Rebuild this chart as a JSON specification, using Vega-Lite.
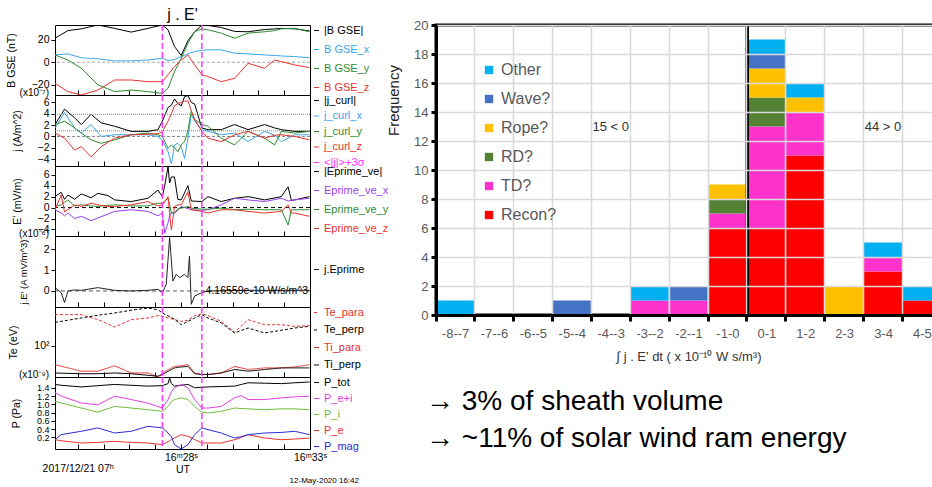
{
"$schema": "https://vega.github.io/schema/vega-lite/v6.json",
"background": "white",
"padding": {"left": 5, "top": 0, "right": 0, "bottom": 0},
"config": {"font": "Liberation Sans", "view": {"stroke": "black", "strokeWidth": 1},
 "axis": {"labelFont": "Liberation Sans", "titleFont": "Liberation Sans", "labelColor": "black", "titleColor": "black", "tickColor": "black", "titleFontWeight": "normal", "grid": false, "domain": false, "labelOverlap": false},
 "legend": {"labelFont": "Liberation Sans"},
 "title": {"font": "Liberation Sans", "fontWeight": "normal", "color": "black"}},
"datasets": {
 "one": [{}],
 "vl": [{"t": 27.28}, {"t": 28.81}],
 "B": [
  {"t":23.12,"|B GSE|":21.3,"B GSE_x":6.5,"B GSE_y":6.5,"B GSE_z":-18.7},
  {"t":23.62,"|B GSE|":28,"B GSE_x":7.4,"B GSE_y":2,"B GSE_z":-26},
  {"t":24.14,"|B GSE|":29.6,"B GSE_x":4,"B GSE_y":-5.3,"B GSE_z":-29},
  {"t":24.78,"|B GSE|":33,"B GSE_x":3,"B GSE_y":-20,"B GSE_z":-24.6},
  {"t":25.43,"|B GSE|":30,"B GSE_x":1.2,"B GSE_y":-26,"B GSE_z":-15.7},
  {"t":26.07,"|B GSE|":26.7,"B GSE_x":1.2,"B GSE_y":-24.6,"B GSE_z":-15.7},
  {"t":26.72,"|B GSE|":30,"B GSE_x":2,"B GSE_y":-26,"B GSE_z":-17.2},
  {"t":27.28,"|B GSE|":33,"B GSE_x":3.5,"B GSE_y":-27.6,"B GSE_z":-17.2},
  {"t":27.5,"|B GSE|":28.7,"B GSE_x":1.5,"B GSE_y":-23,"B GSE_z":-11},
  {"t":27.75,"|B GSE|":14,"B GSE_x":2.5,"B GSE_y":-8.3,"B GSE_z":-3.8},
  {"t":28.01,"|B GSE|":6,"B GSE_x":5,"B GSE_y":3.5,"B GSE_z":2},
  {"t":28.27,"|B GSE|":19,"B GSE_x":7.5,"B GSE_y":17,"B GSE_z":6.5},
  {"t":28.53,"|B GSE|":27,"B GSE_x":9.5,"B GSE_y":27,"B GSE_z":-2.4},
  {"t":28.81,"|B GSE|":33,"B GSE_x":10.5,"B GSE_y":29.6,"B GSE_z":-11},
  {"t":29.05,"|B GSE|":32.6,"B GSE_x":11,"B GSE_y":28.7,"B GSE_z":-12.7},
  {"t":29.56,"|B GSE|":30.8,"B GSE_x":11,"B GSE_y":25.8,"B GSE_z":-17.2},
  {"t":30.08,"|B GSE|":27.3,"B GSE_x":8,"B GSE_y":21.3,"B GSE_z":-14.2},
  {"t":30.6,"|B GSE|":27,"B GSE_x":7.4,"B GSE_y":25.8,"B GSE_z":-0.9},
  {"t":31.24,"|B GSE|":29,"B GSE_x":6.5,"B GSE_y":27,"B GSE_z":-5.3},
  {"t":31.63,"|B GSE|":29.5,"B GSE_x":6,"B GSE_y":28,"B GSE_z":2},
  {"t":31.89,"|B GSE|":30,"B GSE_x":5.6,"B GSE_y":29.6,"B GSE_z":0.6},
  {"t":32.41,"|B GSE|":29.6,"B GSE_x":5,"B GSE_y":30,"B GSE_z":-2.4},
  {"t":32.98,"|B GSE|":27.8,"B GSE_x":4,"B GSE_y":27,"B GSE_z":-4.7}],
 "J": [
  {"t":23.12,"|j_curl|":2.1,"j_curl_x":1.5,"j_curl_y":2.1,"j_curl_z":0.6},
  {"t":23.49,"|j_curl|":4.8,"j_curl_x":4.2,"j_curl_y":2.7,"j_curl_z":-0.3},
  {"t":23.88,"|j_curl|":3.3,"j_curl_x":1.5,"j_curl_y":1.5,"j_curl_z":-2.4},
  {"t":24.14,"|j_curl|":2.1,"j_curl_x":0.6,"j_curl_y":0.6,"j_curl_z":-1.8},
  {"t":24.52,"|j_curl|":3.9,"j_curl_x":2.1,"j_curl_y":-0.6,"j_curl_z":-3.6},
  {"t":24.91,"|j_curl|":2.4,"j_curl_x":0,"j_curl_y":-1.2,"j_curl_z":-1.8},
  {"t":25.43,"|j_curl|":1.8,"j_curl_x":0.3,"j_curl_y":-0.6,"j_curl_z":-0.3},
  {"t":26.07,"|j_curl|":0.9,"j_curl_x":0.3,"j_curl_y":0.3,"j_curl_z":0.3},
  {"t":26.72,"|j_curl|":0.9,"j_curl_x":0.3,"j_curl_y":0.6,"j_curl_z":0.4},
  {"t":27.11,"|j_curl|":1.2,"j_curl_x":0,"j_curl_y":0.3,"j_curl_z":0.5},
  {"t":27.28,"|j_curl|":2.7,"j_curl_x":-0.6,"j_curl_y":0,"j_curl_z":0.8},
  {"t":27.5,"|j_curl|":5.1,"j_curl_x":-2.7,"j_curl_y":-2.1,"j_curl_z":2.7},
  {"t":27.63,"|j_curl|":5.5,"j_curl_x":-4.8,"j_curl_y":-1.5,"j_curl_z":4.0},
  {"t":27.75,"|j_curl|":6.6,"j_curl_x":-1.5,"j_curl_y":-2.0,"j_curl_z":5.4},
  {"t":27.88,"|j_curl|":5.8,"j_curl_x":-1.2,"j_curl_y":-2.7,"j_curl_z":5.8},
  {"t":28.01,"|j_curl|":5.4,"j_curl_x":-1.8,"j_curl_y":-1.5,"j_curl_z":6.0},
  {"t":28.14,"|j_curl|":7.0,"j_curl_x":-3.9,"j_curl_y":-0.9,"j_curl_z":6.2},
  {"t":28.27,"|j_curl|":7.2,"j_curl_x":-0.3,"j_curl_y":1.0,"j_curl_z":6.3},
  {"t":28.4,"|j_curl|":6.0,"j_curl_x":3.9,"j_curl_y":4.5,"j_curl_z":4.5},
  {"t":28.53,"|j_curl|":5.7,"j_curl_x":2.7,"j_curl_y":3.0,"j_curl_z":3.0},
  {"t":28.81,"|j_curl|":1.5,"j_curl_x":1.2,"j_curl_y":2.1,"j_curl_z":0.9},
  {"t":29.05,"|j_curl|":1.2,"j_curl_x":0.9,"j_curl_y":1.8,"j_curl_z":-0.3},
  {"t":29.56,"|j_curl|":1.2,"j_curl_x":0.3,"j_curl_y":-0.3,"j_curl_z":-0.9},
  {"t":30.08,"|j_curl|":2.1,"j_curl_x":0.6,"j_curl_y":-1.5,"j_curl_z":0.3},
  {"t":30.6,"|j_curl|":1.2,"j_curl_x":-0.9,"j_curl_y":0.9,"j_curl_z":0.9},
  {"t":31.24,"|j_curl|":2.1,"j_curl_x":0.9,"j_curl_y":-0.3,"j_curl_z":-0.3},
  {"t":31.63,"|j_curl|":1.5,"j_curl_x":0.2,"j_curl_y":-1.5,"j_curl_z":0.2},
  {"t":31.89,"|j_curl|":1.2,"j_curl_x":-0.9,"j_curl_y":0.9,"j_curl_z":0.3},
  {"t":32.41,"|j_curl|":0.9,"j_curl_x":0.3,"j_curl_y":0.6,"j_curl_z":0},
  {"t":32.98,"|j_curl|":0.9,"j_curl_x":0.3,"j_curl_y":0.9,"j_curl_z":-0.6}],
 "E": [
  {"t":23.12,"|Eprime_ve|":2.0,"Eprime_ve_x":-0.4,"Eprime_ve_y":0.2,"Eprime_ve_z":-0.4},
  {"t":23.36,"|Eprime_ve|":2.8,"Eprime_ve_x":-1.0,"Eprime_ve_y":0.5,"Eprime_ve_z":2.3},
  {"t":23.49,"|Eprime_ve|":1.5,"Eprime_ve_x":-1.5,"Eprime_ve_y":1.0,"Eprime_ve_z":-0.8},
  {"t":23.62,"|Eprime_ve|":2.3,"Eprime_ve_x":-1.0,"Eprime_ve_y":1.4,"Eprime_ve_z":-0.4},
  {"t":23.88,"|Eprime_ve|":1.5,"Eprime_ve_x":-2.0,"Eprime_ve_y":0.3,"Eprime_ve_z":0.5},
  {"t":24.14,"|Eprime_ve|":2.5,"Eprime_ve_x":-1.6,"Eprime_ve_y":0.5,"Eprime_ve_z":0.2},
  {"t":24.52,"|Eprime_ve|":1.8,"Eprime_ve_x":-2.4,"Eprime_ve_y":0.3,"Eprime_ve_z":0.8},
  {"t":24.78,"|Eprime_ve|":2.6,"Eprime_ve_x":-1.9,"Eprime_ve_y":0.2,"Eprime_ve_z":0.5},
  {"t":25.17,"|Eprime_ve|":2.2,"Eprime_ve_x":-1.2,"Eprime_ve_y":0.4,"Eprime_ve_z":0.2},
  {"t":25.43,"|Eprime_ve|":1.4,"Eprime_ve_x":-0.7,"Eprime_ve_y":0.5,"Eprime_ve_z":0.2},
  {"t":26.07,"|Eprime_ve|":1.1,"Eprime_ve_x":-0.4,"Eprime_ve_y":0.3,"Eprime_ve_z":0.5},
  {"t":26.72,"|Eprime_ve|":1.7,"Eprime_ve_x":-0.7,"Eprime_ve_y":0.3,"Eprime_ve_z":1.1},
  {"t":27.11,"|Eprime_ve|":3.2,"Eprime_ve_x":-1.5,"Eprime_ve_y":0.8,"Eprime_ve_z":0.3},
  {"t":27.28,"|Eprime_ve|":2.0,"Eprime_ve_x":-1.0,"Eprime_ve_y":0.8,"Eprime_ve_z":0.5},
  {"t":27.37,"|Eprime_ve|":4.0,"Eprime_ve_x":-4.7,"Eprime_ve_y":1.2,"Eprime_ve_z":1.0},
  {"t":27.5,"|Eprime_ve|":7.5,"Eprime_ve_x":-2.8,"Eprime_ve_y":1.7,"Eprime_ve_z":2.0},
  {"t":27.56,"|Eprime_ve|":4.5,"Eprime_ve_x":-1.5,"Eprime_ve_y":0.5,"Eprime_ve_z":-1.0},
  {"t":27.63,"|Eprime_ve|":5.6,"Eprime_ve_x":-1.0,"Eprime_ve_y":-1.0,"Eprime_ve_z":-4.1},
  {"t":27.75,"|Eprime_ve|":5.6,"Eprime_ve_x":-1.0,"Eprime_ve_y":-1.0,"Eprime_ve_z":0.2},
  {"t":27.88,"|Eprime_ve|":1.5,"Eprime_ve_x":-0.5,"Eprime_ve_y":-0.2,"Eprime_ve_z":0.5},
  {"t":28.01,"|Eprime_ve|":1.4,"Eprime_ve_x":0.2,"Eprime_ve_y":-0.1,"Eprime_ve_z":0.5},
  {"t":28.27,"|Eprime_ve|":4.0,"Eprime_ve_x":-0.2,"Eprime_ve_y":0.2,"Eprime_ve_z":2.9},
  {"t":28.4,"|Eprime_ve|":1.2,"Eprime_ve_x":-0.4,"Eprime_ve_y":-0.1,"Eprime_ve_z":-0.4},
  {"t":28.81,"|Eprime_ve|":1.1,"Eprime_ve_x":-0.5,"Eprime_ve_y":-0.3,"Eprime_ve_z":-0.7},
  {"t":29.05,"|Eprime_ve|":2.0,"Eprime_ve_x":-0.4,"Eprime_ve_y":-0.3,"Eprime_ve_z":-1.0},
  {"t":29.56,"|Eprime_ve|":1.1,"Eprime_ve_x":0.5,"Eprime_ve_y":-0.1,"Eprime_ve_z":-0.4},
  {"t":30.08,"|Eprime_ve|":1.7,"Eprime_ve_x":1.7,"Eprime_ve_y":-0.4,"Eprime_ve_z":-0.4},
  {"t":30.6,"|Eprime_ve|":2.0,"Eprime_ve_x":1.4,"Eprime_ve_y":-0.3,"Eprime_ve_z":-0.7},
  {"t":31.24,"|Eprime_ve|":1.4,"Eprime_ve_x":1.1,"Eprime_ve_y":-0.4,"Eprime_ve_z":-1.0},
  {"t":31.89,"|Eprime_ve|":2.0,"Eprime_ve_x":1.7,"Eprime_ve_y":-0.4,"Eprime_ve_z":-0.7},
  {"t":32.15,"|Eprime_ve|":3.8,"Eprime_ve_x":1.2,"Eprime_ve_y":-3.2,"Eprime_ve_z":0.5},
  {"t":32.28,"|Eprime_ve|":1.3,"Eprime_ve_x":1.3,"Eprime_ve_y":-0.4,"Eprime_ve_z":-1.0},
  {"t":32.41,"|Eprime_ve|":1.4,"Eprime_ve_x":1.4,"Eprime_ve_y":-0.4,"Eprime_ve_z":-1.0},
  {"t":32.98,"|Eprime_ve|":2.0,"Eprime_ve_x":1.7,"Eprime_ve_y":-0.4,"Eprime_ve_z":-1.6}],
 "JE": [
  {"t":23.12,"v":0.16},{"t":23.36,"v":-0.08},{"t":23.49,"v":-0.56},{"t":23.62,"v":0},
  {"t":23.88,"v":0.05},{"t":24.14,"v":0.03},{"t":24.78,"v":0.16},{"t":25.43,"v":0.03},
  {"t":26.07,"v":0},{"t":26.72,"v":0.03},{"t":27.11,"v":0.08},{"t":27.28,"v":-0.08},
  {"t":27.43,"v":0.32},{"t":27.56,"v":2.56},{"t":27.69,"v":0.48},{"t":27.82,"v":0.8},
  {"t":27.95,"v":0.64},{"t":28.14,"v":0.8},{"t":28.27,"v":0.64},{"t":28.33,"v":1.68},
  {"t":28.4,"v":-0.64},{"t":28.53,"v":-0.24},{"t":28.81,"v":-0.08},{"t":29.05,"v":0},
  {"t":30.6,"v":0.03},{"t":32.98,"v":0.03}],
 "T": [
  {"t":23.12,"Te_para":307,"Te_perp":232,"Ti_para":50,"Ti_perp":37},
  {"t":24.14,"Te_para":307,"Te_perp":272,"Ti_para":39.5,"Ti_perp":36},
  {"t":24.78,"Te_para":256,"Te_perp":300,"Ti_para":39.5,"Ti_perp":36},
  {"t":25.43,"Te_para":196,"Te_perp":326,"Ti_para":48,"Ti_perp":37},
  {"t":26.07,"Te_para":256,"Te_perp":360,"Ti_para":37,"Ti_perp":36},
  {"t":26.72,"Te_para":272,"Te_perp":390,"Ti_para":37,"Ti_perp":34},
  {"t":27.11,"Te_para":296,"Te_perp":367,"Ti_para":32,"Ti_perp":33},
  {"t":27.28,"Te_para":289,"Te_perp":326,"Ti_para":37,"Ti_perp":35},
  {"t":27.75,"Te_para":256,"Te_perp":260,"Ti_para":47,"Ti_perp":44.5},
  {"t":28.01,"Te_para":241,"Te_perp":213,"Ti_para":48,"Ti_perp":46},
  {"t":28.27,"Te_para":250,"Te_perp":240,"Ti_para":50,"Ti_perp":47},
  {"t":28.53,"Te_para":296,"Te_perp":272,"Ti_para":37,"Ti_perp":36},
  {"t":28.81,"Te_para":318,"Te_perp":307,"Ti_para":35,"Ti_perp":35},
  {"t":29.05,"Te_para":296,"Te_perp":272,"Ti_para":35,"Ti_perp":35},
  {"t":29.56,"Te_para":241,"Te_perp":227,"Ti_para":37,"Ti_perp":37},
  {"t":30.08,"Te_para":162,"Te_perp":158,"Ti_para":47,"Ti_perp":42},
  {"t":30.6,"Te_para":256,"Te_perp":189,"Ti_para":42,"Ti_perp":39.5},
  {"t":31.24,"Te_para":213,"Te_perp":158,"Ti_para":44.5,"Ti_perp":42},
  {"t":31.89,"Te_para":213,"Te_perp":174,"Ti_para":44.5,"Ti_perp":44.5},
  {"t":32.41,"Te_para":201,"Te_perp":189,"Ti_para":46,"Ti_perp":44.5},
  {"t":32.98,"Te_para":206,"Te_perp":201,"Ti_para":50,"Ti_perp":44.5}],
 "P": [
  {"t":23.12,"P_tot":1.48,"P_e+i":1.28,"P_i":1.075,"P_e":0.145,"P_mag":0.145},
  {"t":23.36,"P_tot":1.46,"P_e+i":1.2,"P_i":1.03,"P_e":0.12,"P_mag":0.267},
  {"t":24.14,"P_tot":1.42,"P_e+i":1.03,"P_i":0.91,"P_e":0.065,"P_mag":0.348},
  {"t":24.78,"P_tot":1.45,"P_e+i":0.99,"P_i":0.81,"P_e":0.08,"P_mag":0.43},
  {"t":25.43,"P_tot":1.48,"P_e+i":1.196,"P_i":0.95,"P_e":0.105,"P_mag":0.307},
  {"t":26.07,"P_tot":1.46,"P_e+i":1.115,"P_i":0.91,"P_e":0.08,"P_mag":0.348},
  {"t":26.72,"P_tot":1.44,"P_e+i":1.03,"P_i":0.87,"P_e":0.065,"P_mag":0.468},
  {"t":27.28,"P_tot":1.45,"P_e+i":0.91,"P_i":0.83,"P_e":0.025,"P_mag":0.43},
  {"t":27.5,"P_tot":1.5,"P_e+i":1.115,"P_i":0.95,"P_e":0.1,"P_mag":0.307},
  {"t":27.56,"P_tot":1.64,"P_e+i":1.2,"P_i":1.0,"P_e":0.12,"P_mag":0.26},
  {"t":27.63,"P_tot":1.5,"P_e+i":1.3,"P_i":1.07,"P_e":0.15,"P_mag":0.226},
  {"t":27.75,"P_tot":1.44,"P_e+i":1.4,"P_i":1.115,"P_e":0.186,"P_mag":0.025},
  {"t":28.01,"P_tot":1.46,"P_e+i":1.48,"P_i":1.156,"P_e":0.267,"P_mag":-0.08},
  {"t":28.27,"P_tot":1.48,"P_e+i":1.4,"P_i":1.115,"P_e":0.226,"P_mag":0.025},
  {"t":28.53,"P_tot":1.4,"P_e+i":1.115,"P_i":0.95,"P_e":0.15,"P_mag":0.267},
  {"t":28.81,"P_tot":1.41,"P_e+i":0.91,"P_i":0.81,"P_e":0.065,"P_mag":0.43},
  {"t":29.05,"P_tot":1.42,"P_e+i":0.91,"P_i":0.79,"P_e":0.065,"P_mag":0.388},
  {"t":29.56,"P_tot":1.43,"P_e+i":0.95,"P_i":0.83,"P_e":0.065,"P_mag":0.307},
  {"t":30.08,"P_tot":1.44,"P_e+i":1.156,"P_i":0.91,"P_e":0.145,"P_mag":0.186},
  {"t":30.34,"P_tot":1.48,"P_e+i":1.21,"P_i":0.9,"P_e":0.2,"P_mag":0.22},
  {"t":30.6,"P_tot":1.52,"P_e+i":1.115,"P_i":0.89,"P_e":0.267,"P_mag":0.267},
  {"t":31.24,"P_tot":1.51,"P_e+i":1.115,"P_i":0.87,"P_e":0.186,"P_mag":0.307},
  {"t":31.89,"P_tot":1.5,"P_e+i":1.156,"P_i":0.89,"P_e":0.145,"P_mag":0.32},
  {"t":32.41,"P_tot":1.52,"P_e+i":1.18,"P_i":0.89,"P_e":0.16,"P_mag":0.348},
  {"t":32.98,"P_tot":1.54,"P_e+i":1.196,"P_i":0.87,"P_e":0.186,"P_mag":0.267}],
 "hist": [
  {"bin":"-8--7","type":"Other","n":1,"k":6},
  {"bin":"-5--4","type":"Wave?","n":1,"k":5},
  {"bin":"-3--2","type":"TD?","n":1,"k":2},
  {"bin":"-3--2","type":"Other","n":1,"k":6},
  {"bin":"-2--1","type":"TD?","n":1,"k":2},
  {"bin":"-2--1","type":"Wave?","n":1,"k":5},
  {"bin":"-1-0","type":"Recon?","n":6,"k":1},
  {"bin":"-1-0","type":"TD?","n":1,"k":2},
  {"bin":"-1-0","type":"RD?","n":1,"k":3},
  {"bin":"-1-0","type":"Rope?","n":1,"k":4},
  {"bin":"0-1","type":"Recon?","n":6,"k":1},
  {"bin":"0-1","type":"TD?","n":7,"k":2},
  {"bin":"0-1","type":"RD?","n":2,"k":3},
  {"bin":"0-1","type":"Rope?","n":2,"k":4},
  {"bin":"0-1","type":"Wave?","n":1,"k":5},
  {"bin":"0-1","type":"Other","n":1,"k":6},
  {"bin":"1-2","type":"Recon?","n":11,"k":1},
  {"bin":"1-2","type":"TD?","n":3,"k":2},
  {"bin":"1-2","type":"Rope?","n":1,"k":4},
  {"bin":"1-2","type":"Other","n":1,"k":6},
  {"bin":"2-3","type":"Rope?","n":2,"k":4},
  {"bin":"3-4","type":"Recon?","n":3,"k":1},
  {"bin":"3-4","type":"TD?","n":1,"k":2},
  {"bin":"3-4","type":"Other","n":1,"k":6},
  {"bin":"4-5","type":"Recon?","n":1,"k":1},
  {"bin":"4-5","type":"Other","n":1,"k":6}],
 "notes": [{"bin":"-4--3","y":13,"label":"15 < 0"},{"bin":"3-4","y":13,"label":"44 > 0"}]
},
"resolve": {"scale": {"color": "independent", "strokeDash": "independent"}, "legend": {"color": "independent", "strokeDash": "independent"}},
"spacing": -6,
"hconcat": [
 {"spacing": 0, "bounds": "flush",
  "resolve": {"scale": {"color": "independent", "strokeDash": "independent"}, "legend": {"color": "independent", "strokeDash": "independent"}},
  "vconcat": [
   {"title": {"text": "j . E'", "fontSize": 16, "offset": 1},
    "width": 255, "height": 70, "data": {"name": "B"},
    "layer": [
     {"data": {"name": "one"}, "mark": {"type": "rule", "color": "#aaaaaa", "strokeDash": [3,2], "strokeWidth": 1}, "encoding": {"y": {"datum": 0}}},
     {"transform": [{"fold": ["|B GSE|","B GSE_x","B GSE_y","B GSE_z"], "as": ["s","v"]}],
      "mark": {"type": "line", "strokeWidth": 1, "clip": true},
      "encoding": {
       "x": {"field": "t", "type": "quantitative", "scale": {"domain": [23.12, 33.0], "nice": false, "zero": false}, "axis": {"values": [24,25,26,27,28,29,30,31,32], "tickCount": 50, "labels": false, "title": null, "tickSize": -5}},
       "y": {"field": "v", "type": "quantitative", "scale": {"domain": [-29, 33], "nice": false, "zero": false}, "axis": {"title": "B GSE   (nT)", "values": [-20,0,20], "format": "d", "tickCount": 50, "tickSize": 4, "labelFontSize": 10.5, "titleFontSize": 10.5, "titlePadding": 15}},
       "color": {"field": "s", "type": "nominal", "scale": {"domain": ["|B GSE|","B GSE_x","B GSE_y","B GSE_z"], "range": ["#000000","#3da5e8","#2e8b2e","#e8322e"]},
        "legend": {"title": null, "orient": "right", "offset": 1, "padding": 0, "symbolType": "stroke", "symbolSize": 25, "symbolStrokeWidth": 1, "labelOffset": 2, "labelFontSize": 11, "rowPadding": 7,
         "labelColor": {"expr": "datum.value=='B GSE_x'?'#3da5e8':datum.value=='B GSE_y'?'#2e8b2e':datum.value=='B GSE_z'?'#e8322e':'#000000'"}}}}},
     {"data": {"name": "vl"}, "mark": {"type": "rule", "color": "#ff33ff", "strokeDash": [6,3], "strokeWidth": 1.5}, "encoding": {"x": {"field": "t", "type": "quantitative"}}}
    ]},
   {"width": 255, "height": 71, "data": {"name": "J"},
    "layer": [
     {"data": {"name": "one"}, "mark": {"type": "rule", "color": "#888888", "strokeDash": [3,2], "strokeWidth": 1}, "encoding": {"y": {"datum": 0}}},
     {"data": {"name": "one"}, "mark": {"type": "rule", "color": "#888888", "strokeDash": [1,1], "strokeWidth": 1}, "encoding": {"y": {"datum": 1.0}}},
     {"transform": [{"fold": ["|j_curl|","j_curl_x","j_curl_y","j_curl_z"], "as": ["s","v"]}],
      "mark": {"type": "line", "strokeWidth": 1, "clip": true},
      "encoding": {
       "x": {"field": "t", "type": "quantitative", "scale": {"domain": [23.12, 33.0], "nice": false, "zero": false}, "axis": {"values": [24,25,26,27,28,29,30,31,32], "tickCount": 50, "labels": false, "title": null, "tickSize": -5}},
       "y": {"field": "v", "type": "quantitative", "scale": {"domain": [-5.2, 7.3], "nice": false, "zero": false}, "axis": {"title": "j (A/m^2)", "values": [-4,-2,0,2,4,6], "format": "d", "tickCount": 50, "tickSize": 4, "labelFontSize": 10.5, "titleFontSize": 10.5, "titlePadding": 15}},
       "color": {"field": "s", "type": "nominal", "scale": {"domain": ["|j_curl|","j_curl_x","j_curl_y","j_curl_z","<|j|>+3σ"], "range": ["#000000","#3da5e8","#2e8b2e","#e8322e","#ff33ff"]},
        "legend": {"title": null, "orient": "right", "offset": 1, "padding": 0, "symbolType": "stroke", "symbolSize": 25, "symbolStrokeWidth": 1, "labelOffset": 2, "labelFontSize": 11, "rowPadding": 3.5,
         "labelColor": {"expr": "datum.value=='j_curl_x'?'#3da5e8':datum.value=='j_curl_y'?'#2e8b2e':datum.value=='j_curl_z'?'#e8322e':datum.value=='<|j|>+3σ'?'#ff33ff':'#000000'"}}}}},
     {"data": {"name": "one"}, "mark": {"type": "rule", "strokeDash": [1,1], "strokeWidth": 1}, "encoding": {"y": {"datum": 3.9}, "color": {"datum": "<|j|>+3σ"}}},
     {"data": {"name": "one"}, "mark": {"type": "text", "align": "right", "baseline": "middle", "dx": -6, "dy": -2, "fontSize": 10}, "encoding": {"x": {"datum": 23.12}, "y": {"datum": 7.3}, "text": {"value": "(x10⁻⁷)"}}},
     {"data": {"name": "vl"}, "mark": {"type": "rule", "color": "#ff33ff", "strokeDash": [6,3], "strokeWidth": 1.5}, "encoding": {"x": {"field": "t", "type": "quantitative"}}}
    ]},
   {"width": 255, "height": 70, "data": {"name": "E"},
    "layer": [
     {"data": {"name": "one"}, "mark": {"type": "rule", "color": "#000000", "strokeDash": [4,3], "strokeWidth": 1}, "encoding": {"y": {"datum": 0}}},
     {"transform": [{"fold": ["|Eprime_ve|","Eprime_ve_x","Eprime_ve_y","Eprime_ve_z"], "as": ["s","v"]}],
      "mark": {"type": "line", "strokeWidth": 1, "clip": true},
      "encoding": {
       "x": {"field": "t", "type": "quantitative", "scale": {"domain": [23.12, 33.0], "nice": false, "zero": false}, "axis": {"values": [24,25,26,27,28,29,30,31,32], "tickCount": 50, "labels": false, "title": null, "tickSize": -5}},
       "y": {"field": "v", "type": "quantitative", "scale": {"domain": [-5.2, 7.6], "nice": false, "zero": false}, "axis": {"title": "E' (mV/m)", "values": [-4,-2,0,2,4,6], "format": "d", "tickCount": 50, "tickSize": 4, "labelFontSize": 10.5, "titleFontSize": 10.5, "titlePadding": 15}},
       "color": {"field": "s", "type": "nominal", "scale": {"domain": ["|Eprime_ve|","Eprime_ve_x","Eprime_ve_y","Eprime_ve_z"], "range": ["#000000","#9b3ff0","#2e8b2e","#e8322e"]},
        "legend": {"title": null, "orient": "right", "offset": 1, "padding": 0, "symbolType": "stroke", "symbolSize": 25, "symbolStrokeWidth": 1, "labelOffset": 2, "labelFontSize": 11, "rowPadding": 7,
         "labelColor": {"expr": "datum.value=='Eprime_ve_x'?'#9b3ff0':datum.value=='Eprime_ve_y'?'#2e8b2e':datum.value=='Eprime_ve_z'?'#e8322e':'#000000'"}}}}},
     {"data": {"name": "vl"}, "mark": {"type": "rule", "color": "#ff33ff", "strokeDash": [6,3], "strokeWidth": 1.5}, "encoding": {"x": {"field": "t", "type": "quantitative"}}}
    ]},
   {"width": 255, "height": 71, "data": {"name": "JE"},
    "layer": [
     {"data": {"name": "one"}, "mark": {"type": "rule", "color": "#555555", "strokeDash": [4,3], "strokeWidth": 1}, "encoding": {"y": {"datum": 0}}},
     {"mark": {"type": "line", "strokeWidth": 1, "clip": true},
      "encoding": {
       "x": {"field": "t", "type": "quantitative", "scale": {"domain": [23.12, 33.0], "nice": false, "zero": false}, "axis": {"values": [24,25,26,27,28,29,30,31,32], "tickCount": 50, "labels": false, "title": null, "tickSize": -5}},
       "y": {"field": "v", "type": "quantitative", "scale": {"domain": [-0.77, 2.64], "nice": false, "zero": false}, "axis": {"title": "j.E' (A mV/m^3)", "values": [0,1,2], "format": "d", "tickCount": 50, "tickSize": 4, "labelFontSize": 10.5, "titleFontSize": 9.5, "titlePadding": 15}},
       "color": {"datum": "j.Eprime", "scale": {"range": ["#222222"]},
        "legend": {"title": null, "orient": "none", "legendX": 256, "legendY": 28, "padding": 0, "symbolType": "stroke", "symbolSize": 25, "symbolStrokeWidth": 1, "labelOffset": 2, "labelFontSize": 11}}}},
     {"data": {"name": "one"}, "mark": {"type": "text", "align": "right", "baseline": "middle", "dx": -2, "fontSize": 10.5}, "encoding": {"x": {"datum": 33.0}, "y": {"datum": 0}, "text": {"value": "4.16559e-10 W/s/m^3"}}},
     {"data": {"name": "one"}, "mark": {"type": "text", "align": "right", "baseline": "middle", "dx": -6, "dy": -2, "fontSize": 10}, "encoding": {"x": {"datum": 23.12}, "y": {"datum": 2.64}, "text": {"value": "(x10⁻⁶)"}}},
     {"data": {"name": "vl"}, "mark": {"type": "rule", "color": "#ff33ff", "strokeDash": [6,3], "strokeWidth": 1.5}, "encoding": {"x": {"field": "t", "type": "quantitative"}}}
    ]},
   {"width": 255, "height": 70, "data": {"name": "T"},
    "layer": [
     {"transform": [{"fold": ["Te_para","Te_perp","Ti_para","Ti_perp"], "as": ["s","v"]}],
      "mark": {"type": "line", "strokeWidth": 1, "clip": true},
      "encoding": {
       "x": {"field": "t", "type": "quantitative", "scale": {"domain": [23.12, 33.0], "nice": false, "zero": false}, "axis": {"values": [24,25,26,27,28,29,30,31,32], "tickCount": 50, "labels": false, "title": null, "tickSize": -5}},
       "y": {"field": "v", "type": "quantitative", "scale": {"type": "log", "domain": [32, 405], "nice": false}, "axis": {"title": "Te (eV)", "values": [100], "labelExpr": "'10²'", "tickSize": 4, "labelFontSize": 10.5, "titleFontSize": 10.5, "titlePadding": 15}},
       "color": {"field": "s", "type": "nominal", "scale": {"domain": ["Te_para","Te_perp","Ti_para","Ti_perp"], "range": ["#e8322e","#000000","#e8322e","#000000"]},
        "legend": {"title": null, "orient": "right", "offset": 1, "padding": 0, "symbolType": "stroke", "symbolSize": 25, "symbolStrokeWidth": 1, "labelOffset": 2, "labelFontSize": 11, "rowPadding": 5.5,
         "labelColor": {"expr": "datum.value=='Te_para'||datum.value=='Ti_para'?'#e8322e':'#000000'"}}},
       "strokeDash": {"field": "s", "type": "nominal", "scale": {"domain": ["Te_para","Te_perp","Ti_para","Ti_perp"], "range": [[3,2],[3,2],[1,0],[1,0]]}, "legend": null}}},
     {"data": {"name": "vl"}, "mark": {"type": "rule", "color": "#ff33ff", "strokeDash": [6,3], "strokeWidth": 1.5}, "encoding": {"x": {"field": "t", "type": "quantitative"}}}
    ]},
   {"width": 255, "height": 72, "data": {"name": "P"},
    "title": {"text": "12-May-2020 16:42", "orient": "bottom", "anchor": "end", "fontSize": 8, "offset": 2},
    "layer": [
     {"transform": [{"fold": ["P_tot","P_e+i","P_i","P_e","P_mag"], "as": ["s","v"]}],
      "mark": {"type": "line", "strokeWidth": 1, "clip": true},
      "encoding": {
       "x": {"field": "t", "type": "quantitative", "scale": {"domain": [23.12, 33.0], "nice": false, "zero": false},
        "axis": {"values": [24,25,26,27,28,29,30,31,32,33], "tickCount": 50, "title": "UT", "titleFontSize": 10.5, "titleY": 15, "titleBaseline": "top", "tickSize": -5, "labelPadding": 8, "labelFlush": false, "labelFontSize": 10.5, "labelLineHeight": 11,
         "labelExpr": "datum.value == 28 ? '16ᵐ28ˢ' : datum.value == 33 ? '16ᵐ33ˢ' : datum.value == 24 ? ['', '2017/12/21 07ʰ'] : ''"}},
       "y": {"field": "v", "type": "quantitative", "scale": {"domain": [-0.08, 1.66], "nice": false, "zero": false}, "axis": {"title": "P (Pa)", "values": [0.2,0.4,0.6,0.8,1.0,1.2,1.4], "tickCount": 50, "format": ".1f", "tickSize": 4, "labelFontSize": 9, "titleFontSize": 10.5, "titlePadding": 15}},
       "color": {"field": "s", "type": "nominal", "scale": {"domain": ["P_tot","P_e+i","P_i","P_e","P_mag"], "range": ["#000000","#e040e0","#6cbf3a","#e8322e","#2b2bd8"]},
        "legend": {"title": null, "orient": "right", "offset": 1, "padding": 0, "symbolType": "stroke", "symbolSize": 25, "symbolStrokeWidth": 1, "labelOffset": 2, "labelFontSize": 11, "rowPadding": 4,
         "labelColor": {"expr": "datum.value=='P_e+i'?'#e040e0':datum.value=='P_i'?'#6cbf3a':datum.value=='P_e'?'#e8322e':datum.value=='P_mag'?'#2b2bd8':'#000000'"}}}}},
     {"data": {"name": "one"}, "mark": {"type": "text", "align": "right", "baseline": "middle", "dx": -6, "dy": -2, "fontSize": 10}, "encoding": {"x": {"datum": 23.12}, "y": {"datum": 1.66}, "text": {"value": "(x10⁻⁹)"}}},
     {"data": {"name": "vl"}, "mark": {"type": "rule", "color": "#ff33ff", "strokeDash": [6,3], "strokeWidth": 1.5}, "encoding": {"x": {"field": "t", "type": "quantitative"}}}
    ]}
  ]},
 {"title": {"text": " ", "fontSize": 13, "offset": 4},
  "vconcat": [
   {"width": 505, "height": 290,
    "view": {"stroke": "black", "strokeWidth": 3},
    "title": {"text": ["→ 3% of sheath volume", "→ ~11% of solar wind ram energy"], "orient": "bottom", "anchor": "start", "frame": "group", "fontSize": 28, "lineHeight": 37, "offset": 25, "dx": -10},
    "data": {"name": "hist"},
    "layer": [
     {"mark": {"type": "bar"},
      "encoding": {
       "x": {"field": "bin", "type": "nominal", "title": "∫ j . E'  dt ( x 10⁻¹⁰ W s/m³)",
        "scale": {"domain": ["-8--7","-7--6","-6--5","-5--4","-4--3","-3--2","-2--1","-1-0","0-1","1-2","2-3","3-4","4-5"], "paddingInner": 0.02, "paddingOuter": 0},
        "axis": {"tickBand": "extent", "tickSize": 6, "tickWidth": 3, "tickColor": "black", "labelColor": "#595959", "labelFontSize": 13, "labelAngle": 0, "labelPadding": 6, "grid": true, "gridColor": "#d9d9d9", "gridWidth": 1.5, "domain": true, "domainColor": "black", "domainWidth": 3, "titleFontSize": 13, "titleColor": "#333333", "titlePadding": 10, "zindex": 1}},
       "y": {"field": "n", "type": "quantitative", "stack": "zero", "title": "Frequency",
        "scale": {"domain": [0, 20], "nice": false},
        "axis": {"values": [0,2,4,6,8,10,12,14,16,18,20], "format": "d", "tickCount": 50, "tickSize": 5, "tickWidth": 3, "tickColor": "black", "labelColor": "#595959", "labelFontSize": 13, "labelPadding": 3, "grid": true, "gridColor": "#d9d9d9", "gridWidth": 1.5, "domain": true, "domainColor": "black", "domainWidth": 3, "titleFontSize": 15, "titleColor": "#222222", "titleX": -35, "titleY": 75, "zindex": 1}},
       "color": {"field": "type", "type": "nominal",
        "scale": {"domain": ["Recon?","TD?","RD?","Rope?","Wave?","Other"], "range": ["#ff0000","#ff33cc","#548235","#ffc000","#4472c4","#00b0f0"]},
        "legend": {"title": null, "orient": "none", "legendX": 45, "legendY": 37, "padding": 0, "symbolType": "square", "symbolSize": 70, "symbolStrokeWidth": 0, "labelOffset": 4, "labelFontSize": 16, "labelColor": "#595959", "rowPadding": 13,
         "values": ["Other","Wave?","Rope?","RD?","TD?","Recon?"]}},
       "order": {"field": "k", "type": "quantitative"}}},
     {"data": {"name": "one"}, "mark": {"type": "rule", "strokeWidth": 3.5, "color": "black"}, "encoding": {"x": {"datum": "0-1", "bandPosition": 0}}},
     {"data": {"name": "notes"}, "mark": {"type": "text", "fontSize": 13, "color": "#333333"},
      "encoding": {"x": {"field": "bin", "type": "nominal", "title": "∫ j . E'  dt ( x 10⁻¹⁰ W s/m³)"}, "y": {"field": "y", "type": "quantitative", "title": "Frequency"}, "text": {"field": "label"}}}
    ]}
  ]}
]
}
